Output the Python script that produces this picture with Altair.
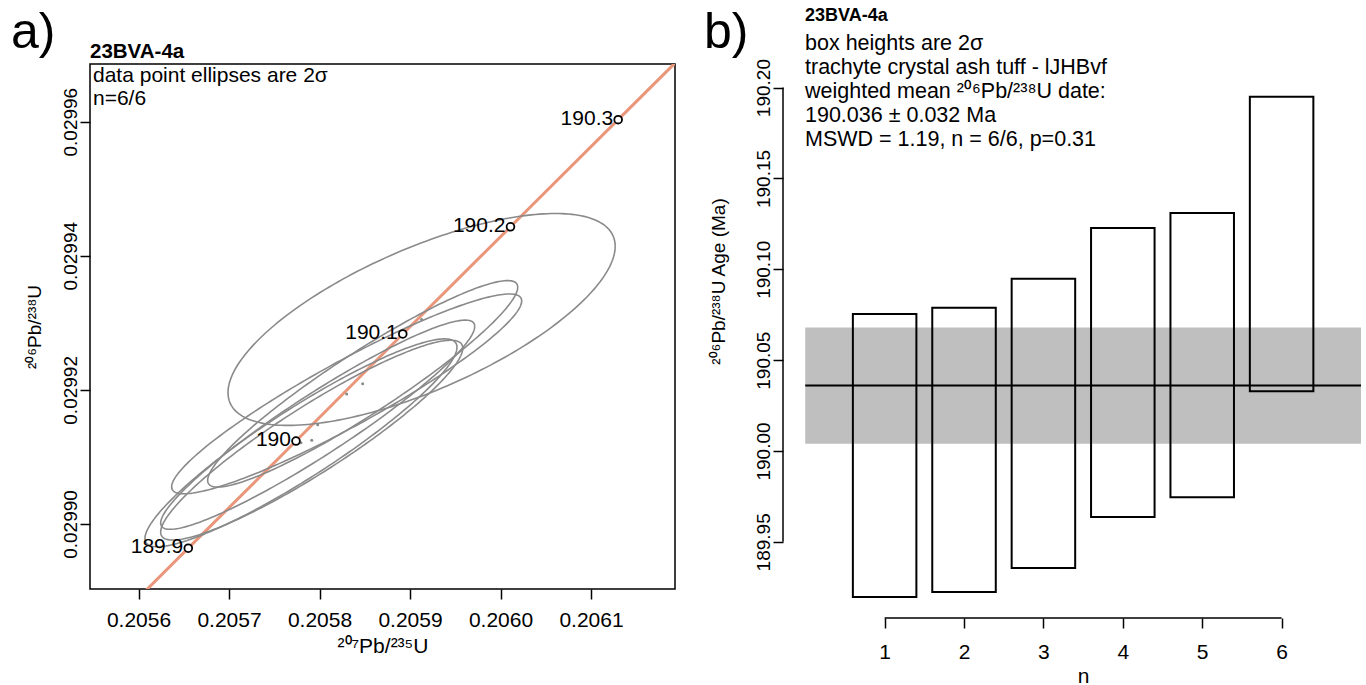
import altair as alt
import numpy as np
import pandas as pd

FONT = "Liberation Sans"

# ---------------- panel a: concordia diagram ----------------
# concordia ages (Ma) and their 207Pb/235U, 206Pb/238U coordinates
conc_age = [189.8, 189.9, 190.0, 190.1, 190.2, 190.3, 190.4]
conc_x = [0.2055364, 0.2056550, 0.2057740, 0.2058920, 0.2060110, 0.2061300, 0.2062488]
conc_y = [0.02988042, 0.02989639, 0.02991237, 0.02992834, 0.02994432, 0.02996030, 0.02997627]
conc_label = ["", "189.9", "190", "190.1", "190.2", "190.3", ""]

# analyses: centre, 2-sigma half extents and error correlation
ell_x = [0.2057795, 0.2057914, 0.2057980, 0.2058300, 0.2058477, 0.2059128]
ell_y = [0.0299121, 0.0299125, 0.0299148, 0.0299194, 0.0299209, 0.0299305]
ell_hx = [0.0001724, 0.0001669, 0.0001735, 0.0001934, 0.0001713, 0.0002139]
ell_hy = [0.0000155, 0.0000149, 0.0000156, 0.0000149, 0.0000154, 0.0000158]
ell_rho = [0.92, 0.92, 0.94, 0.93, 0.935, 0.69]

x_ticks_a = [0.2056, 0.2057, 0.2058, 0.2059, 0.2060, 0.2061]
y_ticks_a = [0.02990, 0.02992, 0.02994, 0.02996]

# ---------------- panel b: weighted mean ----------------
box_n = [1, 2, 3, 4, 5, 6]
box_age = [189.9975, 190.0006, 190.0152, 190.0432, 190.0528, 190.1139]
box_err = [0.0779, 0.0782, 0.0796, 0.0795, 0.0782, 0.0810]
mean_age = 190.036
mean_err = 0.032
x_ticks_b = [1, 2, 3, 4, 5, 6]
y_ticks_b = [189.95, 190.00, 190.05, 190.10, 190.15, 190.20]

info_lines = [
    "box heights are 2σ",
    "trachyte crystal ash tuff - lJHBvf",
    "weighted mean ²⁰⁶Pb/²³⁸U date:",
    "190.036 ± 0.032 Ma",
    "MSWD = 1.19, n = 6/6, p=0.31",
]

# ---------------- data tables ----------------
conc_df = pd.DataFrame({"age": conc_age, "x": conc_x, "y": conc_y, "label": conc_label})
marks_df = conc_df[conc_df["label"] != ""]

t = np.linspace(0, 2 * np.pi, 241)
rows = []
for i, (cx, cy, hx, hy, r) in enumerate(zip(ell_x, ell_y, ell_hx, ell_hy, ell_rho)):
    for k, tt in enumerate(t):
        rows.append({
            "id": i, "k": k,
            "x": cx + hx * np.cos(tt),
            "y": cy + hy * (r * np.cos(tt) + np.sqrt(1 - r * r) * np.sin(tt)),
        })
ell_df = pd.DataFrame(rows)
ctr_df = pd.DataFrame({"x": ell_x, "y": ell_y})

box_df = pd.DataFrame({"n": box_n, "age": box_age, "err": box_err})
band_df = pd.DataFrame({"x0": [0], "x1": [len(box_n) + 1],
                        "lo": [mean_age - mean_err], "hi": [mean_age + mean_err],
                        "mid": [mean_age]})
yline_df = pd.DataFrame({"lo": [y_ticks_b[0]], "hi": [y_ticks_b[-1]]})
xline_df = pd.DataFrame({"lo": [x_ticks_b[0]], "hi": [x_ticks_b[-1]]})

WA, HA = 585, 525
WB, HB = 578, 554

xsa = alt.Scale(domain=[0.2055464, 0.2061928], nice=False, zero=False)
ysa = alt.Scale(domain=[0.0298903, 0.0299686], nice=False, zero=False)
xsb = alt.Scale(domain=[-0.28, 7.0], nice=False, zero=False)
ysb = alt.Scale(domain=[189.90809, 190.21299], nice=False, zero=False)

axis_common = dict(
    grid=False, domain=False, tickSize=10, tickWidth=1.5, tickColor="black",
    labelFont=FONT, labelColor="black", labelFlush=False,
    labelOverlap=False, titleFont=FONT, titleFontWeight="normal",
    titleColor="black",
)

x_axis_a = alt.Axis(values=x_ticks_a, format=".4f", title="²⁰⁷Pb/²³⁵U",
                    labelFontSize=21, titleFontSize=21,
                    labelBaseline="alphabetic", labelPadding=27,
                    titleX=WA / 2, titleY=63, titleBaseline="alphabetic", **axis_common)
y_axis_a = alt.Axis(values=y_ticks_a, format=".5f", title="²⁰⁶Pb/²³⁸U",
                    labelFontSize=19, titleFontSize=19,
                    labelAngle=270, labelAlign="center", labelBaseline="alphabetic",
                    labelPadding=4, titleAngle=270, titleX=-50, titleY=HA / 2,
                    titleAlign="center", titleBaseline="alphabetic", **axis_common)


def label(text, x, y, size=21, weight="normal", align="left"):
    return alt.Chart(alt.Data(values=[{"t": text}])).mark_text(
        align=align, baseline="alphabetic",
        font=FONT, fontSize=size, fontWeight=weight, color="black").encode(
        x=alt.value(x), y=alt.value(y), text="t:N")


# invisible anchor fixing the top-left corner of the page
anchor = alt.Chart(alt.Data(values=[{}])).mark_rule(
    strokeWidth=0, opacity=0).encode(
    x=alt.value(-84), x2=alt.value(-84), y=alt.value(-58), y2=alt.value(-57))

conc_line = alt.Chart(conc_df).mark_line(
    color="#E9967A", strokeWidth=3, clip=True).encode(
    x=alt.X("x:Q", scale=xsa, axis=x_axis_a),
    y=alt.Y("y:Q", scale=ysa, axis=y_axis_a),
    order="age:Q")

ellipses = alt.Chart(ell_df).mark_line(
    color="#8a8a8a", strokeWidth=1.6, clip=True).encode(
    x=alt.X("x:Q", scale=xsa), y=alt.Y("y:Q", scale=ysa),
    detail="id:N", order="k:Q")

centres = alt.Chart(ctr_df).mark_point(
    filled=True, color="#8a8a8a", size=9, opacity=1).encode(
    x=alt.X("x:Q", scale=xsa), y=alt.Y("y:Q", scale=ysa))

age_pts = alt.Chart(marks_df).mark_point(
    shape="circle", filled=True, fill="white", stroke="black",
    strokeWidth=1.8, size=60, opacity=1).encode(
    x=alt.X("x:Q", scale=xsa), y=alt.Y("y:Q", scale=ysa))

age_txt = alt.Chart(marks_df).mark_text(
    align="right", baseline="middle", dx=-5, dy=-1,
    font=FONT, fontSize=21, color="black").encode(
    x=alt.X("x:Q", scale=xsa), y=alt.Y("y:Q", scale=ysa), text="label:N")

panel_a = alt.layer(
    conc_line, ellipses, centres, age_pts, age_txt,
    label("a)", -79, -16, size=50),
    label("23BVA-4a", 0, -6, size=20.5, weight="bold"),
    label("data point ellipses are 2σ", 3, 18),
    label("n=6/6", 3, 40.5),
    anchor,
).properties(width=WA, height=HA,
             view=alt.ViewBackground(stroke="black", strokeWidth=1.5))

# ---------------- panel b ----------------
x_axis_b = alt.Axis(values=x_ticks_b, format="d", title="n",
                    labelFontSize=21, titleFontSize=21,
                    labelBaseline="alphabetic", labelPadding=30,
                    titleX=(3.5 + 0.28) * WB / 7.28, titleY=64,
                    titleBaseline="alphabetic", **axis_common)
y_axis_b = alt.Axis(values=y_ticks_b, format=".2f", title="²⁰⁶Pb/²³⁸U Age (Ma)",
                    labelFontSize=19, titleFontSize=19,
                    labelAngle=270, labelAlign="center", labelBaseline="alphabetic",
                    labelPadding=4, titleAngle=270, titleX=-59, titleY=217,
                    titleAlign="center", titleBaseline="alphabetic", **axis_common)

band = alt.Chart(band_df).mark_rect(color="#BFBFBF").encode(
    x=alt.X("x0:Q", scale=xsb, axis=x_axis_b), x2="x1:Q",
    y=alt.Y("lo:Q", scale=ysb, axis=y_axis_b), y2="hi:Q")

mean_line = alt.Chart(band_df).mark_rule(color="black", strokeWidth=2).encode(
    x=alt.X("x0:Q", scale=xsb), x2="x1:Q", y=alt.Y("mid:Q", scale=ysb))

boxes = alt.Chart(box_df).transform_calculate(
    x0="datum.n - 0.4", x1="datum.n + 0.4",
    lo="datum.age - datum.err", hi="datum.age + datum.err",
).mark_rect(filled=False, stroke="black", strokeWidth=2).encode(
    x=alt.X("x0:Q", scale=xsb), x2="x1:Q",
    y=alt.Y("lo:Q", scale=ysb), y2="hi:Q")

y_line = alt.Chart(yline_df).mark_rule(color="black", strokeWidth=1.5).encode(
    x=alt.value(0), y=alt.Y("lo:Q", scale=ysb), y2="hi:Q")
x_line = alt.Chart(xline_df).mark_rule(color="black", strokeWidth=1.5).encode(
    y=alt.value(HB), x=alt.X("lo:Q", scale=xsb), x2="hi:Q")

text_b = [label("b)", -79, -16, size=50),
          label("23BVA-4a", 22, -43, size=18, weight="bold")]
for i, line in enumerate(info_lines):
    text_b.append(label(line, 22, -14 + 24 * i, size=21.5))

panel_b = alt.layer(
    band, mean_line, boxes, y_line, x_line, *text_b
).properties(width=WB, height=HB,
             view=alt.ViewBackground(stroke="transparent"))

chart = alt.hconcat(panel_a, panel_b, spacing=108, bounds="flush").properties(
    padding={"left": 5, "top": 5, "right": 0, "bottom": 0},
    background="white",
).configure_view(strokeWidth=0)

chart.save("out.html", embed_options={"renderer": "svg", "actions": False})
